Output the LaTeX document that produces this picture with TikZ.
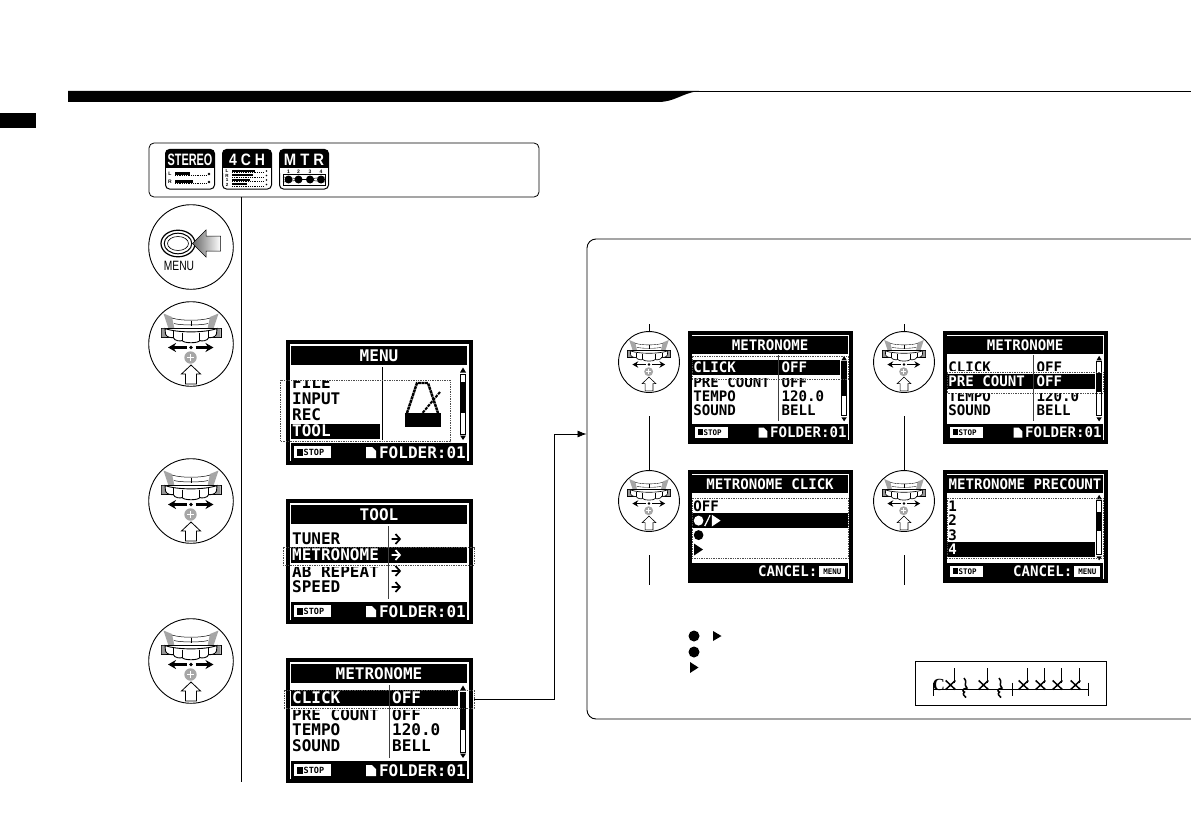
\documentclass[tikz,border=0pt]{standalone}
\usepackage{fontspec}
\usepackage{graphicx}
\setmainfont{Liberation Sans}
\newfontfamily\lcdf{DejaVu Sans Mono}
\newfontfamily\clefserif{Liberation Serif}
\usetikzlibrary{arrows.meta}
\newcounter{lblc}
\tikzset{
  lcdtext/.style={font=\lcdf\bfseries\fontsize{16}{16}\selectfont,inner sep=0pt},
  lcdsmall/.style={font=\lcdf\bfseries\fontsize{8.5}{8.5}\selectfont,inner sep=0pt},
  dashrow/.style={draw=black!70,dash pattern=on 1.4pt off 1pt,line width=.6pt},
  conn/.style={line width=.8pt},
  dialring/.style={circle,draw,line width=.9pt,inner sep=0pt},
  smallscr/.style={shift={(#1)},xscale=.882,yscale=.904,every node/.append style={transform shape}},
  bigscr/.style={shift={(#1)},every node/.append style={transform shape}},
  iconlbl/.style={font=\bfseries\fontsize{16.5}{16.5}\selectfont,text=white,inner sep=0pt},
  icontiny/.style={font=\bfseries\fontsize{5}{5}\selectfont,inner sep=0pt}
}
% text on an LCD: x, centre y, colour, text
\newcommand\lcdt[4]{\stepcounter{lblc}\node[lcdtext,text=#3,anchor=base west] (t\thelblc) at (#1,#2+5.8) {#4};}
\newcommand\chev[2]{\draw[#2,line width=1.7pt] (105.5,#1) -- (113,#1) (109.5,#1-5) -- (114,#1) -- (109.5,#1+5);}
\newcommand\scrbase[1]{%
  \fill[white] (2,2) rectangle (185,123);
  \draw[line width=3.6pt] (2,2) rectangle (185,123);
  \fill (5,6) rectangle (181,25);
  \fill (5,103) rectangle (181,121);
  \stepcounter{lblc}\node[lcdtext,text=white,anchor=base] (t\thelblc) at (93,21.3) {#1};
}
\newcommand\stopbtn{%
  \fill[white] (7.5,106) rectangle (45,118);
  \fill (11,108.5) rectangle (16.5,115.5);
  \stepcounter{lblc}\node[lcdsmall,anchor=base west] (t\thelblc) at (17.5,115.5) {STOP};
}
\newcommand\stopfolder{%
  \stopbtn
  \fill[white] (80,107) -- (86,107) -- (90,111) -- (90,118) -- (80,118) -- cycle;
  \stepcounter{lblc}\node[lcdtext,text=white,anchor=base east] (t\thelblc) at (180,118) {FOLDER:01};
}
\newcommand\cancelmenu{%
  \stepcounter{lblc}\node[lcdtext,text=white,anchor=base east] (t\thelblc) at (147,118) {CANCEL:};
  \fill[white] (149,106) rectangle (178.5,118);
  \stepcounter{lblc}\node[lcdsmall,anchor=base] (t\thelblc) at (163.7,115.5) {MENU};
}
% scrollbar: top and bottom of the black thumb
\newcommand\scrollb[2]{%
  \fill (177,27.5) -- (180,32.5) -- (174,32.5) -- cycle;
  \fill (177,100) -- (180,95.5) -- (174,95.5) -- cycle;
  \draw[line width=1pt] (174.3,34) rectangle (179.7,94);
  \fill (174,#1) rectangle (180,#2);
}
\newcommand\dial[4]{%
  \node[dialring,minimum size=#4*84.6pt] (#1) at (#2,#3) {};
  \begin{scope}[shift={(#2,#3)},scale=#4]
    \fill[black!35] (-27.5,-30.5) -- (-19,-27) -- (-16.7,-16) -- (-22.7,-16) -- cycle;
    \fill[black!35] (27.5,-30.5) -- (19,-27) -- (16.7,-16) -- (22.7,-16) -- cycle;
    \draw[line width=#4*.5pt] (-19,-26) .. controls (-10,-23) and (10,-23) .. (19,-26);
    \draw[line width=#4*.5pt] (-17,-20.5) .. controls (-10,-18.5) and (10,-18.5) .. (17,-20.5);
    \draw[line width=#4*.6pt] (0,-23) -- (0,-18);
    \draw[fill=white,line width=#4*.9pt] (-30,-16) rectangle (30,-6.5);
    \fill[black!40] (-29.5,-15.5) rectangle (-25,-7) (29.5,-15.5) rectangle (25,-7);
    \draw[fill=white,line width=#4*.9pt] (-26,-15.5) .. controls (-14,-11) and (14,-11) .. (26,-15.5)
      -- (25.5,-10) .. controls (25,-6.5) and (19,-6) .. (17.7,-6.5)
      .. controls (17,-3) and (10,-2.5) .. (8.7,-3.5)
      .. controls (7.5,-.5) and (-7.5,-.5) .. (-8.7,-3.5)
      .. controls (-10,-2.5) and (-17,-3) .. (-17.7,-6.5)
      .. controls (-19,-6) and (-25,-6.5) .. (-25.5,-10) -- cycle;
    \draw[line width=#4*.7pt] (-17.7,-12.7) -- (-17.7,-6.5) (17.7,-12.7) -- (17.7,-6.5) (-8.7,-11) -- (-8.7,-3.5) (8.7,-11) -- (8.7,-3.5);
    \draw[line width=#4*2.2pt,-{Stealth[length=#4*8pt,width=#4*9pt]}] (-4.5,3.5) -- (-23,3.5);
    \draw[line width=#4*2.2pt,-{Stealth[length=#4*8pt,width=#4*9pt]}] (4.5,3.5) -- (22.5,3.5);
    \fill (0,3.5) circle (1.9);
    \fill[black!35] (-.5,13.5) circle (6.2);
    \draw[white,line width=#4*1.4pt] (-3.7,13.5) -- (2.7,13.5) (-.5,10.3) -- (-.5,16.7);
    \draw[line width=#4*.8pt,fill=white] (0,21) -- (9.5,30) -- (5.5,30) -- (5.5,40) -- (-5.5,40) -- (-5.5,30) -- (-9.5,30) -- cycle;
  \end{scope}
}
\newcommand\icon[4]{% x, y, label, horizontal scale
  \draw[fill=white,line width=1pt,rounded corners=4pt] (#1,#2) rectangle (#1+49,#2+39.5);
  \fill[rounded corners=4pt] (#1,#2) rectangle (#1+49,#2+22);
  \fill[white] (#1+.6,#2+18.5) rectangle (#1+48.4,#2+23);
  \node[iconlbl] (ic#3) at (#1+24.5,#2+10.2) {\scalebox{#4}[1]{#3}};
}
\begin{document}
\begin{tikzpicture}[x=1pt,y=-1pt]
\useasboundingbox (0,0) rectangle (1191,840);
\clip (0,0) rectangle (1191,840);
\fill[white] (0,0) rectangle (1191,840);

% header
\fill (68,91) -- (699,91) .. controls (682,93) and (675,102) .. (658,102) -- (68,102) -- cycle;
\draw[line width=.7pt] (690,91) -- (1191,91);
\fill (0,113) rectangle (36,128);

% top box
\node[draw,line width=.8pt,rounded corners=5pt,minimum width=390pt,minimum height=54pt,inner sep=0pt] (box) at (344,170) {};
\icon{165.5}{149.5}{STEREO}{.66}
\icon{222.5}{149.5}{4 C H}{.85}
\icon{279.5}{149.5}{M T R}{.9}
% stereo detail
\node[icontiny] (s1) at (170,173.5) {L};
\node[icontiny] (s2) at (170,181.5) {R};
\fill (175,172) rectangle (190,174.5);
\fill (175,180) rectangle (193,182.5);
\draw[dash pattern=on 1pt off .8pt,line width=.6pt] (175,175.5) -- (206,175.5) (175,183.5) -- (206,183.5);
\fill (209,174) circle (1.3) (209,182) circle (1.3);
% 4ch detail
\foreach \yy/\ll/\xe in {171/L/255,175.5/R/253,180/1/250,184.5/2/247}{
  \node[icontiny,font=\bfseries\fontsize{4.5}{4.5}\selectfont] at (227,\yy) {\ll};
  \fill (232,\yy-1.4) rectangle (\xe,\yy+.6);
  \draw[dash pattern=on 1pt off .8pt,line width=.6pt] (232,\yy+1.4) -- (264,\yy+1.4);
  \fill (266.5,\yy) circle (.9);
}
% mtr detail
\draw[line width=.9pt] (283,174.5) rectangle (325.5,185);
\draw[line width=.5pt] (283,177) -- (325.5,182) (283,182) -- (325.5,177);
\foreach \xx/\nn in {288.5/1,298.5/2,310/3,321/4}{
  \node[icontiny] at (\xx,171.3) {\nn};
  \fill (\xx,179.5) circle (4);
}

% main vertical
\coordinate (mainend) at (241,782);
\draw[conn] (box.south -| mainend) -- (mainend);

% MENU button
\node[dialring,minimum size=84.6pt] (dmenu) at (191,247) {};
\draw[line width=1.2pt,fill=white] (178,243.5) ellipse (17 and 13.3);
\draw[line width=1pt] (178,243.5) ellipse (13.8 and 10.3);
\draw[line width=.6pt] (178,243.5) ellipse (10.5 and 7);
\shade[left color=black!60,right color=white] (192.5,243.5) -- (206,230) -- (206,236) -- (220.5,236) -- (220.5,251) -- (206,251) -- (206,257) -- cycle;
\draw[line width=.5pt] (192.5,243.5) -- (206,230) -- (206,236) -- (220.5,236) -- (220.5,251) -- (206,251) -- (206,257) -- cycle;
\node[inner sep=0pt,font=\fontsize{13.5}{13.5}\selectfont] (lmenu) at (179,265.5) {\scalebox{.76}[1]{MENU}};

\dial{d1}{191}{344}{1}
\dial{d2}{191}{501}{1}
\dial{d3}{191}{661}{1}

% MENU screen
\begin{scope}[bigscr={286,340}]
  \scrbase{MENU}\stopfolder
  \lcdt{6}{59}{black}{INPUT}
  \lcdt{6}{75}{black}{REC}
  \lcdt{6}{42.5}{black}{FILE}
  \fill[white] (5,29) rectangle (94,40);
  \fill (5,83.5) rectangle (94,99);
  \lcdt{6}{91}{white}{TOOL}
  \draw[line width=1pt] (96,27) -- (96,100);
  \fill (119,73) rectangle (155,87);
  \draw[line width=2.4pt,dash pattern=on 3pt off .6pt] (121,73) -- (131,43) -- (142,43) -- (152,73);
  \draw[line width=2pt,dash pattern=on 3pt off 1pt] (154,52) -- (134,76);
  \scrollb{42}{73}
  \draw[dashrow] (-6,40) rectangle (164,101.7);
\end{scope}

% TOOL screen
\begin{scope}[bigscr={286,499}]
  \scrbase{TOOL}\stopfolder
  \lcdt{6}{40}{black}{TUNER}
  \lcdt{6}{72.5}{black}{AB REPEAT}
  \fill[white] (5,64) rectangle (181,68);
  \fill (5,48) rectangle (181,64);
  \lcdt{6}{56}{white}{METRONOME}
  \lcdt{6}{88}{black}{SPEED}
  \draw[black!75,line width=1pt] (102.7,27) -- (102.7,100);
  \chev{40}{black}
  \chev{56}{white}
  \chev{72}{black}
  \chev{88}{black}
\end{scope}
\node[dashrow,minimum width=191pt,minimum height=18pt,inner sep=0pt] (toolrow) at (378.5,556) {};

% METRONOME screen
\begin{scope}[bigscr={286,658}]
  \scrbase{METRONOME}\stopfolder
  \lcdt{6}{56.5}{black}{PRE COUNT}
  \lcdt{106}{56.5}{black}{OFF}
  \fill[white] (5,48) rectangle (172,52);
  \fill (5,32) rectangle (172,48);
  \lcdt{6}{40}{white}{CLICK}
  \lcdt{106}{40}{white}{OFF}
  \lcdt{6}{72}{black}{TEMPO}
  \lcdt{106}{72}{black}{120.0}
  \lcdt{6}{88}{black}{SOUND}
  \lcdt{106}{88}{black}{BELL}
  \draw[black!75,line width=1pt] (103,27) -- (103,100);
  \scrollb{34}{72}
\end{scope}
\node[dashrow,minimum width=190pt,minimum height=18pt,inner sep=0pt] (clickrow) at (379,699) {};

% panel
\node[draw,line width=.9pt,rounded corners=9pt,minimum width=660pt,minimum height=480pt,inner sep=0pt] (panel) at (917,479) {};
\coordinate (bend) at (554,434);
\coordinate (panelin) at (panel.west |- bend);
\draw[conn,-{Latex[length=9pt,width=7pt]}] (clickrow.east) -| (bend) -- (panelin);

% small dials
\dial{a1}{649}{362}{.72}
\dial{a2}{649}{501}{.72}
\dial{b1}{904}{362}{.72}
\dial{b2}{904}{501}{.72}
\coordinate (a0) at (649,324);
\coordinate (a3) at (649,416);
\coordinate (a4) at (649,555);
\coordinate (a5) at (649,585);
\coordinate (b0) at (904,324);
\coordinate (b3) at (904,416);
\coordinate (b4) at (904,555);
\coordinate (b5) at (904,585);
\draw[conn] (a0) -- (a1.north);
\draw[conn] (a3) -- (a2.north);
\draw[conn] (a4) -- (a5);
\draw[conn] (b0) -- (b1.north);
\draw[conn] (b3) -- (b2.north);
\draw[conn] (b4) -- (b5);

% small METRONOME CLICK row
\begin{scope}[smallscr={688,331}]
  \scrbase{METRONOME}\stopfolder
  \lcdt{6}{56.5}{black}{PRE COUNT}
  \lcdt{106}{56.5}{black}{OFF}
  \fill[white] (5,48) rectangle (172,52);
  \fill (5,32.5) rectangle (172,49);
  \lcdt{6}{40.5}{white}{CLICK}
  \lcdt{106}{40.5}{white}{OFF}
  \lcdt{6}{72}{black}{TEMPO}
  \lcdt{106}{72}{black}{120.0}
  \lcdt{6}{88}{black}{SOUND}
  \lcdt{106}{88}{black}{BELL}
  \draw[black!75,line width=1pt] (103,27) -- (103,100);
  \scrollb{34}{72}
  \draw[dashrow] (5,28.5) rectangle (182,53);
\end{scope}

% small METRONOME PRE COUNT row
\begin{scope}[smallscr={943,331}]
  \scrbase{METRONOME}\stopfolder
  \lcdt{6}{40}{black}{CLICK}
  \lcdt{106}{40}{black}{OFF}
  \fill[white] (5,44.5) rectangle (172,48);
  \lcdt{6}{72.5}{black}{TEMPO}
  \lcdt{106}{72.5}{black}{120.0}
  \fill[white] (5,64) rectangle (172,68.5);
  \fill (5,48) rectangle (172,64);
  \lcdt{6}{56}{white}{PRE COUNT}
  \lcdt{106}{56}{white}{OFF}
  \lcdt{6}{88}{black}{SOUND}
  \lcdt{106}{88}{black}{BELL}
  \draw[black!75,line width=1pt] (103,27) -- (103,100);
  \scrollb{46}{68}
  \draw[dashrow] (5,45.5) rectangle (182,68.5);
\end{scope}

% small METRONOME CLICK list
\begin{scope}[smallscr={688,470}]
  \scrbase{METRONOME CLICK}\cancelmenu
  \lcdt{6}{40.5}{black}{OFF}
  \fill (5,48) rectangle (181,64);
  \fill[white] (12,56) circle (5.5);
  \draw[white,line width=1.2pt] (19,62) -- (25,50);
  \fill[white] (27,49.5) -- (37,56) -- (27,62.5) -- cycle;
  \fill (12,72) circle (5.5);
  \fill (7,81.5) -- (17,88) -- (7,94.5) -- cycle;
  \draw[dashrow] (5,31) rectangle (182,98);
\end{scope}

% small METRONOME PRECOUNT list
\begin{scope}[smallscr={943,470}]
  \scrbase{METRONOME PRECOUNT}
  \stopbtn
  \cancelmenu
  \lcdt{6}{40}{black}{1}
  \lcdt{6}{56}{black}{2}
  \lcdt{6}{72}{black}{3}
  \fill (5,79.5) rectangle (172,96);
  \lcdt{6}{87.5}{white}{4}
  \scrollb{46}{68}
  \draw[dashrow] (5,31) rectangle (182,98);
\end{scope}

% legend
\fill (694,636) circle (5.5);
\fill (713,631) -- (721.5,636) -- (713,641) -- cycle;
\fill (694,652) circle (5.5);
\fill (690,662) -- (698.5,667.5) -- (690,673) -- cycle;

% music box
\node[draw,line width=.7pt,minimum width=191.5pt,minimum height=44.5pt,inner sep=0pt] (musicbox) at (1011,683.5) {};
\draw[line width=.7pt] (933.3,689.3) -- (1088.3,689.3);
\foreach \xx in {933.3,1012.3,1088.3}{\draw[line width=.8pt] (\xx,682.5) -- (\xx,695.5);}
\node[inner sep=0pt,font=\clefserif\bfseries\fontsize{17}{17}\selectfont] (clef) at (938.7,685) {C};
\foreach \xx/\ss/\sw in {950.5/954.5/.7,983.5/987.5/.7,1023.5/1027.5/.7,1040.5/1044.5/1.2,1057.5/1061.5/.7,1075.5/1079.5/1.2}{
  \draw[line width=1.5pt] (\xx-4.8,680.5) -- (\xx+4.8,689.5) (\xx-4.8,689.5) -- (\xx+4.8,680.5);
  \draw[line width=\sw pt] (\ss,683) -- (\ss,668);
}
\foreach \xx in {965,1000}{
  \draw[line width=1.5pt] (\xx-1,678) .. controls (\xx+3,682) and (\xx-2,684) .. (\xx+2,688) .. controls (\xx-3,689) and (\xx-3,691) .. (\xx-.5,692) .. controls (\xx-3,694) and (\xx-1,696) .. (\xx+1,697.5);
}
\end{tikzpicture}
\end{document}
